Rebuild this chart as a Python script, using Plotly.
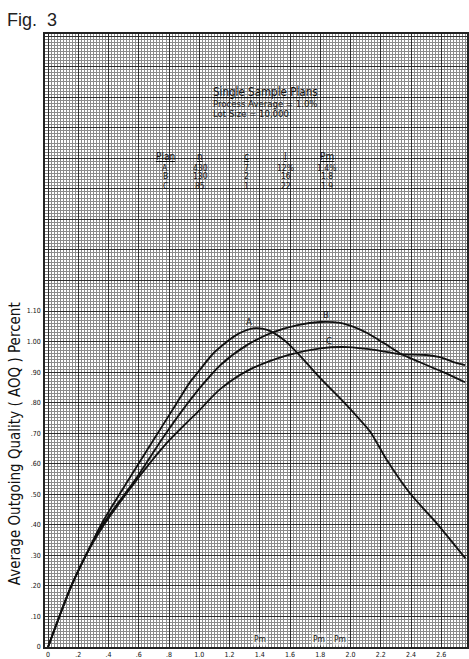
import plotly.graph_objects as go

# ---- data ----
A_x = [0, 0.075, 0.154, 0.25, 0.35, 0.53, 0.70, 0.84, 0.94, 1.0, 1.1, 1.26, 1.37, 1.45, 1.56, 1.65, 1.80, 1.96, 2.06, 2.13, 2.24, 2.39, 2.57, 2.76]
A_y = [0, 0.10, 0.20, 0.30, 0.40, 0.546, 0.68, 0.79, 0.868, 0.905, 0.965, 1.026, 1.044, 1.038, 1.005, 0.962, 0.880, 0.799, 0.745, 0.705, 0.612, 0.505, 0.405, 0.290]

B_x = [0, 0.075, 0.154, 0.25, 0.36, 0.58, 0.78, 0.99, 1.144, 1.32, 1.485, 1.65, 1.80, 1.93, 2.02, 2.11, 2.22, 2.325, 2.456, 2.613, 2.757]
B_y = [0, 0.10, 0.20, 0.30, 0.40, 0.55, 0.70, 0.84, 0.925, 0.99, 1.03, 1.054, 1.064, 1.061, 1.048, 1.028, 0.995, 0.962, 0.933, 0.900, 0.867]

C_x = [0, 0.075, 0.154, 0.25, 0.37, 0.50, 0.63, 0.78, 1.0, 1.14, 1.32, 1.58, 1.80, 1.98, 2.17, 2.325, 2.50, 2.59, 2.68, 2.757]
C_y = [0, 0.10, 0.20, 0.30, 0.40, 0.49, 0.575, 0.665, 0.775, 0.845, 0.905, 0.955, 0.978, 0.982, 0.972, 0.959, 0.956, 0.949, 0.933, 0.923]

x_tick_vals = [0, 0.2, 0.4, 0.6, 0.8, 1.0, 1.2, 1.4, 1.6, 1.8, 2.0, 2.2, 2.4, 2.6]
x_tick_text = ["0", ".2", ".4", ".6", ".8", "1.0", "1.2", "1.4", "1.6", "1.8", "2.0", "2.2", "2.4", "2.6"]
y_tick_vals = [0, 0.1, 0.2, 0.3, 0.4, 0.5, 0.6, 0.7, 0.8, 0.9, 1.0, 1.1, 1.2, 1.3, 1.4, 1.5, 1.6, 1.7, 1.8, 1.9, 2.0]
y_tick_text = ["0", ".10", ".20", ".30", ".40", ".50", ".60", ".70", ".80", ".90", "1.00", "1.10",
               "", "", "", "", "", "", "", "", ""]

plans = ["A", "B", "C"]
plan_n = ["430", "130", "85"]
plan_c = ["7", "2", "1"]
plan_I = ["12%", "16", "22"]
plan_pm = ["1.4%", "1.8", "1.9"]
pm_marks_x = [1.40, 1.79, 1.93]
curve_label_pos = {"A": (1.33, 1.066), "B": (1.835, 1.088), "C": (1.86, 1.003)}

HAND = "Liberation Sans Narrow, DejaVu Sans Condensed, Arial Narrow, sans-serif"

fig = go.Figure()
for name, xs, ys in (("A", A_x, A_y), ("B", B_x, B_y), ("C", C_x, C_y)):
    fig.add_trace(go.Scatter(x=xs, y=ys, mode="lines", name=name,
                             line=dict(color="#111111", width=1.8, shape="spline", smoothing=0.8),
                             showlegend=False, hoverinfo="skip"))

W, H = 469, 659
L, R, T, B = 45, 0, 34, 12
pw, ph = W - L - R, H - T - B

def px(xp):
    return (xp - L) / pw

def py(yp):
    return (H - B - yp) / ph

ann = []
ann.append(dict(text="Fig.  3", x=px(5), y=py(20), xanchor="left", yanchor="middle",
                font=dict(size=18, family="Liberation Sans, Arial, sans-serif", color="#222")))
ann.append(dict(text="<u>Single Sample Plans</u>", x=px(212), y=py(92), xanchor="left", yanchor="middle",
                font=dict(size=11.5, family=HAND, color="#111")))
ann.append(dict(text="Process Average = 1.0%", x=px(212), y=py(104), xanchor="left", yanchor="middle",
                font=dict(size=9.5, family=HAND, color="#111")))
ann.append(dict(text="Lot Size = 10,000", x=px(212), y=py(113.5), xanchor="left", yanchor="middle",
                font=dict(size=9.5, family=HAND, color="#111")))

col_x = [166, 201, 247, 287, 328]
headers = ["<u>Plan</u>", "<u>n</u>", "<u>c</u>", "<u>I</u>", "<u>Pm</u>"]
for cx, h in zip(col_x, headers):
    ann.append(dict(text=h, x=px(cx), y=py(156.5), xanchor="center", yanchor="middle",
                    font=dict(size=10, family=HAND, color="#111")))
row_y = [167.5, 176.5, 185.5]
for i in range(3):
    for cx, val in zip(col_x, [plans[i], plan_n[i], plan_c[i], plan_I[i], plan_pm[i]]):
        ann.append(dict(text=val, x=px(cx), y=py(row_y[i]), xanchor="center", yanchor="middle",
                        font=dict(size=8.5, family=HAND, color="#111")))

ann.append(dict(text="Average Outgoing Quality ( AOQ ) Percent", x=px(15), y=py(444), textangle=-90,
                xanchor="center", yanchor="middle", font=dict(size=15, family=HAND, color="#111")))

for k, v in curve_label_pos.items():
    ann.append(dict(text=k, x=v[0], y=v[1], xref="x", yref="y", xanchor="center", yanchor="middle",
                    font=dict(size=9.5, family=HAND, color="#111")))
for mx in pm_marks_x:
    ann.append(dict(text="Pm", x=mx, y=0.025, xref="x", yref="y", xanchor="center", yanchor="middle",
                    font=dict(size=8.5, family=HAND, color="#111"), bgcolor="rgba(255,255,255,0.5)"))

for a in ann:
    a.setdefault("xref", "paper")
    a.setdefault("yref", "paper")
    a["showarrow"] = False

fig.update_layout(
    width=W, height=H, margin=dict(l=L, r=R, t=T, b=B, pad=0),
    paper_bgcolor="white", plot_bgcolor="white",
    annotations=ann, showlegend=False,
    xaxis=dict(range=[-0.02, 2.77], tickmode="array", tickvals=x_tick_vals, ticktext=x_tick_text,
               showgrid=True, gridcolor="#2e2e2e", gridwidth=1, zeroline=False,
               showline=True, linecolor="#222", linewidth=1.5, mirror=True, ticks="",
               tickfont=dict(size=7, family=HAND, color="#111"), ticklabelstandoff=0,
               minor=dict(tickmode="linear", tick0=0, dtick=0.02, showgrid=True,
                          gridcolor="#8a8a8a", gridwidth=1)),
    yaxis=dict(range=[0, 2.007], tickmode="array", tickvals=y_tick_vals, ticktext=y_tick_text,
               showgrid=True, gridcolor="#2e2e2e", gridwidth=1, zeroline=False,
               showline=True, linecolor="#222", linewidth=1.5, mirror=True, ticks="",
               tickfont=dict(size=7, family=HAND, color="#111"), ticklabelstandoff=1,
               minor=dict(tickmode="linear", tick0=0, dtick=0.01, showgrid=True,
                          gridcolor="#8a8a8a", gridwidth=1)),
)

fig.write_html("out.html")
